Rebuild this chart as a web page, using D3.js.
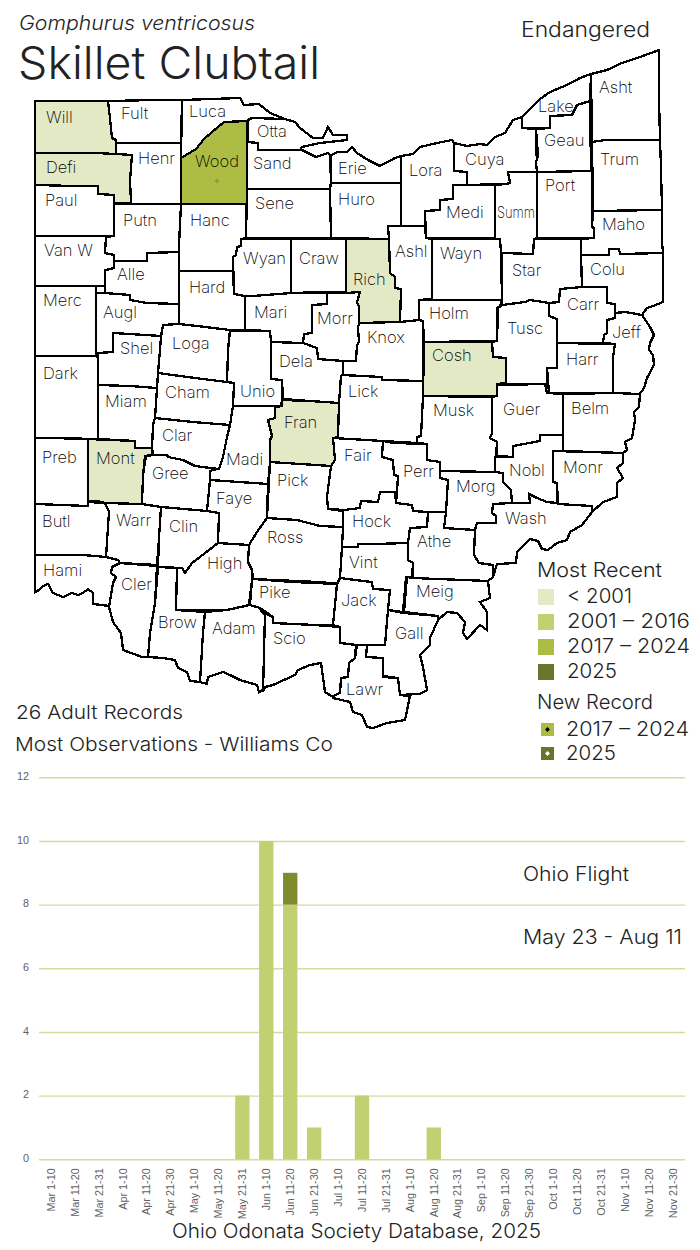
<!DOCTYPE html>
<html>
<head>
<meta charset="utf-8">
<title>Skillet Clubtail</title>
<script src="https://cdn.jsdelivr.net/npm/d3@7"></script>
<style>
  body { margin: 0; background: #fff; }
  svg { display: block; }
  text { font-family: Inter, "Open Sans", sans-serif; font-weight: 300; fill: #222; }
  .county { stroke: #000; stroke-width: 2.3px; stroke-linejoin: miter; shape-rendering: crispEdges; }
  .county-name { font-size: 16.5px; font-weight: 200; fill: #000; }
  .axis text { font-family: "Liberation Sans", Arial, sans-serif; font-weight: 400; font-size: 10.8px; fill: #5f5f5f; }
  .axis path { display: none; }
  .axis line { stroke: #d3dc9b; stroke-width: 1.4px; }
</style>
</head>
<body>
<svg id="chart" width="700" height="1250"></svg>
<script>
// flight chart values
var periods = ["Mar 1-10","Mar 11-20","Mar 21-31","Apr 1-10","Apr 11-20","Apr 21-30","May 1-10","May 11-20","May 21-31",
  "Jun 1-10","Jun 11-20","Jun 21-30","Jul 1-10","Jul 11-20","Jul 21-31","Aug 1-10","Aug 11-20","Aug 21-31",
  "Sep 1-10","Sep 11-20","Sep 21-30","Oct 1-10","Oct 11-20","Oct 21-31","Nov 1-10","Nov 11-20","Nov 21-30"];
var earlierRecords = [0,0,0,0,0,0,0,0,2,10,8,1,0,2,0,0,1,0,0,0,0,0,0,0,0,0,0];
var records2025    = [0,0,0,0,0,0,0,0,0,0,1,0,0,0,0,0,0,0,0,0,0,0,0,0,0,0,0];
var yTicks = [0,2,4,6,8,10,12];

// map classes
var recentLabels = ["< 2001","2001 \u2013 2016","2017 \u2013 2024","2025"];
var recentColors = ["#e4e9c5","#c2d072","#adbd44","#6b7428"];
var before2001 = ["Will","Defi","Rich","Cosh","Fran","Mont"];
var from2017 = ["Wood"];
var newRecordLabels = ["2017 \u2013 2024","2025"];

var outlines = {
  Will:[[35,101],[108,101],[110,118],[112,138],[116,140],[116,154],[96,153],[35,153]],
  Fult:[[108,101],[157,100],[182,100],[181,143],[116,143],[116,140],[112,138],[110,118]],
  Henr:[[116,143],[181,143],[181,158],[181,204],[131,204],[130,180],[132,155],[116,154]],
  Defi:[[35,153],[96,153],[116,154],[132,155],[130,180],[131,203],[114,203],[114,195],[98,194],[98,186],[75,186],[35,185]],
  Paul:[[35,185],[75,186],[98,186],[98,194],[114,195],[114,236],[105,236],[35,236]],
  "Van W":[[35,236],[105,236],[106,237],[105,253],[114,255],[114,268],[106,270],[105,286],[96,286],[35,286]],
  Alle:[[114,261],[147,261],[147,253],[179,252],[179,304],[147,303],[130,300],[130,295],[105,293],[105,270],[106,270],[114,268]],
  Putn:[[114,204],[131,204],[181,204],[181,244],[179,252],[147,253],[147,261],[114,261],[114,255],[105,253],[106,237],[114,236]],
  Hanc:[[181,204],[247,204],[246,238],[241,239],[241,246],[237,247],[236,255],[233,257],[233,271],[179,271],[179,245]],
  Hard:[[179,271],[233,271],[234,294],[245,296],[245,330],[230,330],[197,326],[179,324]],
  Wood:[[181,158],[196,149],[204,139],[212,132],[224,122],[247,121],[247,204],[181,204]],
  Luca:[[182,100],[240,98],[244,105],[259,104],[270,113],[285,119],[252,118],[248,121],[224,122],[212,132],[204,139],[196,149],[181,158]],
  Otta:[[248,120],[252,118],[285,119],[295,122],[300,128],[313,138],[323,138],[328,127],[333,135],[347,135],[347,140],[320,143],[302,147],[300,150],[258,150],[258,143],[248,142]],
  Sand:[[247,142],[258,143],[258,150],[302,150],[312,155],[316,157],[328,153],[330,155],[331,182],[330,189],[247,189]],
  Sene:[[247,189],[330,189],[331,238],[246,238]],
  Wyan:[[241,239],[291,239],[291,293],[253,296],[245,296],[234,294],[233,257],[236,255],[237,247],[241,246]],
  Craw:[[291,239],[346,239],[346,293],[327,292],[291,293]],
  Mari:[[245,296],[253,296],[291,293],[327,293],[327,304],[312,305],[312,333],[304,334],[303,343],[271,342],[270,331],[245,330]],
  Morr:[[327,293],[360,292],[357,302],[359,307],[359,323],[358,328],[359,342],[357,345],[356,361],[343,361],[318,359],[317,348],[303,343],[304,334],[312,333],[312,305],[327,304]],
  Knox:[[359,323],[400,321],[423,320],[423,381],[382,380],[382,377],[343,375],[343,361],[356,361],[357,345],[359,342],[358,328]],
  Dela:[[271,342],[303,343],[317,348],[318,359],[343,361],[343,375],[341,376],[339,403],[310,401],[283,399],[282,380],[271,379]],
  Lick:[[342,375],[382,377],[382,380],[423,381],[423,396],[422,417],[421,436],[417,437],[417,443],[383,441],[333,438],[338,437],[339,403],[341,376]],
  Fran:[[282,400],[310,401],[339,403],[338,437],[333,438],[335,460],[331,466],[270,462],[270,440],[272,436],[268,420],[275,418],[275,407],[282,406]],
  Unio:[[230,331],[270,331],[271,342],[271,379],[282,380],[282,400],[281,406],[233,406],[234,383],[227,382],[228,350]],
  Loga:[[163,325],[179,324],[197,326],[230,330],[228,350],[227,382],[195,378],[158,373],[160,350],[161,337]],
  Shel:[[113,333],[161,336],[160,350],[158,373],[157,388],[130,386],[98,385],[98,353],[113,352]],
  Augl:[[96,293],[105,293],[130,295],[130,300],[147,303],[179,304],[179,324],[163,325],[161,336],[113,333],[113,352],[98,353],[96,355]],
  Merc:[[35,286],[96,286],[96,356],[35,356]],
  Dark:[[35,356],[96,356],[98,357],[98,439],[50,438],[35,438]],
  Miam:[[98,385],[130,386],[157,388],[155,418],[153,425],[152,448],[135,448],[135,441],[98,439]],
  Mont:[[88,439],[135,441],[135,448],[152,448],[152,455],[145,456],[143,475],[142,504],[105,503],[97,501],[88,501]],
  Preb:[[35,438],[50,438],[88,439],[88,506],[62,505],[35,504]],
  Butl:[[35,504],[62,505],[88,506],[88,502],[105,503],[109,512],[107,542],[106,557],[83,555],[35,555]],
  Warr:[[105,503],[142,504],[161,507],[159,538],[157,565],[120,563],[118,560],[106,557],[107,542],[109,512]],
  Hami:[[35,555],[83,555],[106,557],[118,560],[120,563],[112,567],[111,573],[116,577],[113,583],[110,606],[93,604],[93,593],[88,589],[83,593],[78,595],[72,593],[63,597],[53,593],[48,584],[43,586],[39,590],[35,592]],
  Cler:[[120,563],[157,566],[155,603],[150,633],[148,657],[142,657],[123,650],[121,633],[113,622],[109,607],[113,583],[116,577],[111,573],[112,567]],
  Brow:[[158,567],[177,568],[176,610],[205,612],[203,633],[200,682],[190,681],[187,672],[178,668],[175,660],[163,658],[148,657],[150,633],[155,603]],
  Adam:[[205,612],[227,610],[250,605],[258,607],[265,615],[265,675],[263,690],[259,692],[257,685],[240,680],[230,675],[223,672],[208,677],[207,684],[200,682],[203,633]],
  High:[[218,543],[249,545],[248,562],[252,570],[252,580],[249,605],[227,610],[176,610],[177,568],[182,568],[185,573],[192,563],[200,557]],
  Clin:[[161,507],[207,511],[219,513],[218,543],[200,557],[192,563],[185,573],[182,568],[158,567],[159,538]],
  Gree:[[146,456],[153,455],[167,455],[168,457],[183,460],[195,466],[217,469],[210,471],[210,480],[207,511],[161,507],[142,504],[143,475]],
  Clar:[[155,418],[193,422],[230,425],[227,437],[223,457],[219,469],[195,466],[183,460],[168,457],[167,455],[153,455],[152,448],[153,425]],
  Cham:[[158,373],[195,378],[227,382],[234,383],[233,406],[230,425],[193,422],[155,418],[157,388]],
  Madi:[[233,406],[275,406],[275,418],[268,420],[272,436],[270,440],[270,462],[268,484],[210,480],[210,471],[217,469],[219,469],[223,457],[227,437],[230,425]],
  Faye:[[210,480],[268,484],[267,518],[257,532],[249,545],[218,543],[219,513],[207,511]],
  Pick:[[270,462],[331,466],[329,493],[328,509],[343,511],[343,527],[320,526],[297,520],[267,518]],
  Ross:[[267,518],[297,520],[320,526],[343,527],[342,547],[341,584],[318,582],[253,579],[252,570],[248,562],[249,545],[257,532]],
  Pike:[[253,579],[293,582],[337,584],[333,625],[315,625],[273,623],[273,617],[260,608],[250,605],[252,580]],
  Scio:[[265,613],[273,617],[273,623],[315,625],[340,627],[340,643],[356,645],[355,658],[349,663],[348,677],[341,678],[340,693],[333,697],[325,692],[323,677],[321,663],[310,665],[298,670],[295,675],[273,685],[265,687],[263,692]],
  Jack:[[340,578],[355,580],[372,582],[373,589],[390,590],[388,610],[385,645],[357,645],[340,643],[340,627],[333,625],[337,584]],
  Vint:[[342,547],[358,547],[358,544],[375,544],[408,543],[408,560],[413,563],[412,577],[406,577],[403,612],[388,610],[390,590],[373,589],[372,582],[355,580],[340,578]],
  Hock:[[343,510],[360,508],[361,501],[378,502],[380,492],[395,492],[396,503],[412,505],[413,511],[428,512],[427,527],[410,528],[408,543],[375,544],[358,544],[358,547],[342,547],[343,527]],
  Fair:[[333,438],[383,441],[382,457],[393,460],[394,475],[398,476],[397,492],[380,492],[378,502],[361,501],[360,508],[344,510],[328,509],[327,497],[331,466],[335,460]],
  Perr:[[383,441],[394,443],[427,444],[427,460],[440,462],[440,478],[448,480],[446,512],[428,512],[413,511],[412,505],[396,503],[397,492],[398,476],[394,475],[393,460],[382,457]],
  Musk:[[423,396],[492,397],[492,433],[490,438],[497,442],[495,472],[440,471],[440,462],[427,460],[427,444],[417,443],[417,437],[421,436],[422,417]],
  Cosh:[[424,342],[492,342],[493,357],[506,358],[506,383],[497,384],[497,396],[423,396]],
  Holm:[[419,300],[502,300],[500,306],[497,308],[497,341],[424,342],[423,321],[419,320]],
  Ashl:[[388,226],[425,226],[426,238],[432,239],[432,299],[419,300],[419,320],[400,322],[401,289],[395,288],[395,277],[390,273],[389,239]],
  Rich:[[346,239],[389,239],[390,273],[395,277],[395,288],[401,289],[400,322],[359,323],[359,307],[357,302],[360,292],[346,293]],
  Wayn:[[432,239],[500,239],[501,253],[502,300],[432,300]],
  Medi:[[425,211],[440,210],[440,200],[453,199],[453,185],[495,185],[495,238],[426,238]],
  Lora:[[401,156],[413,154],[420,147],[437,143],[452,140],[454,143],[454,171],[467,172],[467,185],[453,185],[453,199],[440,200],[440,210],[425,211],[425,226],[401,226]],
  Erie:[[331,155],[338,152],[347,152],[352,147],[357,153],[368,160],[380,166],[395,158],[401,156],[401,183],[331,183]],
  Huro:[[331,183],[401,183],[401,226],[388,226],[389,239],[331,238],[330,189]],
  Cuya:[[454,143],[467,146],[480,144],[487,145],[495,137],[505,133],[513,120],[522,117],[522,128],[536,129],[536,155],[538,156],[536,162],[537,172],[508,172],[510,183],[506,184],[467,185],[467,172],[454,171]],
  Summ:[[495,185],[506,184],[510,183],[508,172],[537,172],[537,238],[534,239],[533,254],[501,253],[500,239],[495,239]],
  Port:[[537,172],[592,171],[592,227],[594,228],[594,238],[537,238]],
  Geau:[[536,129],[550,128],[550,116],[572,115],[577,105],[590,101],[591,171],[537,172],[536,162],[538,156]],
  Lake:[[522,117],[540,99],[550,92],[567,85],[580,78],[591,74],[590,101],[577,105],[572,115],[550,116],[550,128],[522,128]],
  Asht:[[591,74],[607,70],[622,63],[640,57],[659,50],[659,97],[660,140],[605,140],[592,142]],
  Trum:[[592,142],[605,140],[660,140],[661,168],[662,210],[593,211]],
  Maho:[[593,211],[662,210],[662,242],[663,253],[620,254],[619,249],[609,249],[609,255],[581,255],[581,239],[594,238],[594,228],[592,227]],
  Star:[[502,253],[533,254],[534,239],[581,239],[582,287],[560,289],[559,302],[549,303],[530,300],[525,302],[502,305]],
  Colu:[[581,255],[609,255],[609,249],[619,249],[620,254],[663,253],[663,302],[653,306],[647,308],[642,315],[625,312],[615,313],[615,304],[607,303],[607,287],[582,287]],
  Carr:[[560,289],[582,287],[607,287],[607,303],[615,304],[615,318],[607,320],[607,333],[604,335],[603,343],[557,343],[557,319],[549,316],[549,303],[559,302]],
  Jeff:[[615,313],[625,312],[642,315],[650,327],[654,335],[650,343],[649,350],[653,355],[654,365],[647,378],[644,388],[639,395],[620,395],[613,393],[613,357],[615,344],[603,343],[604,335],[607,333],[607,320],[615,318]],
  Harr:[[557,343],[615,344],[613,357],[613,393],[563,393],[549,393],[547,368],[557,368]],
  Tusc:[[498,308],[502,305],[525,302],[530,300],[549,303],[549,316],[557,319],[557,368],[547,368],[547,385],[506,384],[506,358],[493,357],[492,342],[497,341]],
  Guer:[[497,385],[545,384],[547,393],[563,394],[563,435],[540,435],[540,441],[513,446],[513,457],[497,456],[497,442],[490,438],[492,433],[492,397],[497,396]],
  Belm:[[563,394],[613,393],[640,394],[639,407],[634,412],[635,420],[632,438],[625,442],[627,450],[623,453],[563,451]],
  Monr:[[553,451],[623,453],[623,463],[617,468],[623,478],[617,483],[617,497],[603,502],[592,512],[592,506],[558,504],[557,483],[553,482]],
  Nobl:[[495,457],[513,457],[513,446],[540,441],[540,435],[563,435],[563,451],[553,451],[553,482],[557,483],[557,503],[547,502],[537,498],[529,494],[530,503],[512,503],[511,490],[503,482],[503,473],[495,472]],
  Morg:[[440,471],[495,472],[503,473],[503,482],[511,490],[512,503],[493,504],[492,513],[496,516],[496,523],[477,523],[475,530],[444,528],[446,512],[448,480],[440,478]],
  Athe:[[428,512],[446,512],[444,528],[475,530],[474,555],[479,563],[493,565],[493,577],[488,581],[413,578],[413,563],[408,560],[408,543],[410,528],[427,527]],
  Wash:[[493,504],[512,503],[530,503],[529,494],[537,498],[547,502],[557,503],[558,504],[592,506],[592,512],[582,525],[570,532],[567,540],[557,543],[548,550],[542,549],[538,541],[530,539],[517,552],[516,563],[497,564],[493,577],[493,565],[479,563],[474,555],[475,530],[477,523],[496,523],[496,516],[492,513]],
  Meig:[[407,577],[413,578],[488,581],[490,598],[480,602],[487,612],[487,630],[480,625],[467,639],[463,633],[465,622],[457,613],[447,612],[438,620],[438,616],[404,612]],
  Gall:[[388,610],[404,613],[438,616],[438,620],[430,638],[430,645],[420,655],[423,667],[427,690],[420,694],[399,695],[398,678],[383,676],[383,660],[366,657],[366,645],[385,645]],
  Lawr:[[357,645],[367,645],[366,657],[383,658],[383,677],[398,678],[400,695],[410,696],[405,720],[387,723],[373,728],[367,727],[362,715],[353,712],[350,702],[333,698],[333,696],[340,693],[341,678],[348,677],[349,663],[355,658]]
};

// where each county name sits
var labelSpots = {
  Will:[46,123],Fult:[121,119],Luca:[189,117],Otta:[257,137],Henr:[138,164],Defi:[46,173],Wood:[195,167],Sand:[253,169],
  Erie:[338,174],Lora:[409,176],Cuya:[465,165],Lake:[538,112],Asht:[599,93],Geau:[544,146],Trum:[600,165],Port:[545,191],
  Huro:[338,205],Sene:[255,209],Paul:[45,206],Putn:[123,226],Hanc:[190,226],Medi:[446,218],Summ:[497,218],Maho:[602,230],
  Wayn:[440,259],Ashl:[395,257],Wyan:[243,264],Craw:[299,264],Star:[512,276],Colu:[590,275],"Van W":[44,256],Alle:[117,280],
  Hard:[189,293],Merc:[43,306],Augl:[103,318],Mari:[254,318],Morr:[317,324],Rich:[353,285],Carr:[567,310],Holm:[429,319],
  Knox:[367,343],Tusc:[507,334],Jeff:[612,338],Shel:[120,354],Loga:[172,349],Harr:[566,365],Cosh:[432,361],Dark:[43,379],
  Dela:[279,367],Miam:[105,407],Cham:[165,398],Unio:[240,397],Lick:[348,397],Musk:[433,416],Guer:[503,415],Belm:[571,414],
  Clar:[162,441],Madi:[226,465],Fran:[284,428],Fair:[344,461],Perr:[403,477],Morg:[456,492],Preb:[42,463],Mont:[96,464],
  Gree:[152,479],Nobl:[509,476],Monr:[563,473],Faye:[216,504],Pick:[277,486],Butl:[42,527],Warr:[116,526],Clin:[169,532],
  Hock:[352,527],Wash:[505,524],Athe:[417,547],Ross:[267,543],Vint:[349,568],High:[207,569],Hami:[43,576],Cler:[121,590],
  Pike:[259,598],Jack:[341,606],Meig:[416,597],Gall:[395,639],Brow:[158,628],Adam:[212,634],Scio:[273,644],Lawr:[346,695]
};

var svg = d3.select("#chart");
var countyNames = Object.keys(outlines);

// MAP
var outlinePath = d3.line();
svg.append("g").selectAll(".county")
  .data(countyNames)
  .join("path")
  .attr("class", "county")
  .attr("d", function(d){ return outlinePath(outlines[d]) + "Z"; })
  .attr("fill", function(d){
    if (before2001.includes(d)) return recentColors[0];
    if (from2017.includes(d)) return recentColors[2];
    return "#fff";
  });

// names go on last so no neighbour paints over them
svg.append("g").selectAll(".county-name")
  .data(countyNames)
  .join("text")
  .attr("class", "county-name")
  .attr("x", function(d){ return labelSpots[d][0]; })
  .attr("y", function(d){ return labelSpots[d][1]; })
  .text(function(d){ return d; });

// Summ is squeezed into its county
svg.selectAll(".county-name")
  .filter(function(d){ return d === "Summ"; })
  .attr("textLength", 38)
  .attr("lengthAdjust", "spacingAndGlyphs");

// diamond used for new county records
var recordDot = d3.symbol(d3.symbolSquare, 12)();

// faint point in Wood
svg.append("path")
  .attr("transform", "translate(217,181) rotate(45)")
  .attr("d", recordDot)
  .attr("fill", "#8d9c3c");

// HEADINGS
function label(txt, x, y, size, width, italic){
  var t = svg.append("text").attr("x", x).attr("y", y).attr("font-size", size).text(txt);
  if (width) t.attr("textLength", width).attr("lengthAdjust", "spacingAndGlyphs");
  if (italic) t.style("font-style", "italic");
  return t;
}
label("Gomphurus ventricosus", 19, 30, 20, 236, true);
label("Skillet Clubtail", 18, 79, 45, 302);
label("Endangered", 521, 37, 21, 129);
label("26 Adult Records", 16, 719, 19, 167);
label("Most Observations - Williams Co", 15, 751, 19, 318);
label("Ohio Flight", 523, 881, 20, 106);
label("May 23 - Aug 11", 523, 944, 20, 159);
label("Ohio Odonata Society Database, 2025", 172, 1238, 20, 369);

// LEGEND
label("Most Recent", 537, 577, 20, 125);
var legendY = d3.scalePoint().domain(recentLabels).range([597, 672]);
recentLabels.forEach(function(d, i){
  svg.append("rect").attr("x", 538).attr("y", legendY(d) - 8).attr("width", 16).attr("height", 16).attr("fill", recentColors[i]);
  label(d, 567, legendY(d) + 6, 20, [65,123,123,50][i]);
});
label("New Record", 537, 709, 20, 116);
var newRecordY = d3.scalePoint().domain(newRecordLabels).range([729.5, 753.5]);
var newRecordColors = [recentColors[2], recentColors[3]];
var newRecordDots = ["#000", "#fff"];
newRecordLabels.forEach(function(d, i){
  svg.append("rect").attr("x", 541).attr("y", newRecordY(d) - 6.5).attr("width", 13).attr("height", 13).attr("fill", newRecordColors[i]);
  svg.append("path").attr("transform", "translate(547.5," + newRecordY(d) + ") rotate(45)")
    .attr("d", recordDot).attr("fill", newRecordDots[i]);
  label(d, 566, newRecordY(d) + 6.5, 20, [123,50][i]);
});

// FLIGHT CHART
var margin = {left: 39, right: 15, top: 777.3, bottom: 90.7};
var x = d3.scaleBand().domain(periods).range([margin.left, 700 - margin.right]).paddingInner(0.4).paddingOuter(0.2);
var y = d3.scaleLinear().domain([0, 12]).range([1250 - margin.bottom, margin.top]);

svg.append("g")
  .attr("class", "axis")
  .attr("transform", "translate(" + margin.left + ",0)")
  .call(d3.axisLeft(y).tickValues(yTicks).tickSize(-(700 - margin.left - margin.right)).tickPadding(10))
  .selectAll("text").attr("dy", "0.2em");

svg.append("g")
  .attr("class", "axis")
  .attr("transform", "translate(0," + y(0) + ")")
  .call(d3.axisBottom(x).tickSize(0))
  .selectAll("text")
  .attr("transform", "rotate(-90)")
  .attr("text-anchor", "end")
  .attr("dx", "-9px")
  .attr("dy", "0.35em")
  .attr("y", 0)
  .attr("x", 0);

var rows = periods.map(function(p, i){ return {period: p, earlier: earlierRecords[i], latest: records2025[i]}; });
var stacked = d3.stack().keys(["earlier", "latest"])(rows);
var barColor = d3.scaleOrdinal().domain(["earlier", "latest"]).range(["#c2d072", "#7f8b2e"]);

svg.append("g").selectAll("g")
  .data(stacked)
  .join("g")
  .attr("fill", function(d){ return barColor(d.key); })
  .selectAll("rect")
  .data(function(d){ return d; })
  .join("rect")
  .attr("x", function(d){ return x(d.data.period); })
  .attr("y", function(d){ return y(d[1]); })
  .attr("width", x.bandwidth())
  .attr("height", function(d){ return y(d[0]) - y(d[1]); });
</script>
</body>
</html>
